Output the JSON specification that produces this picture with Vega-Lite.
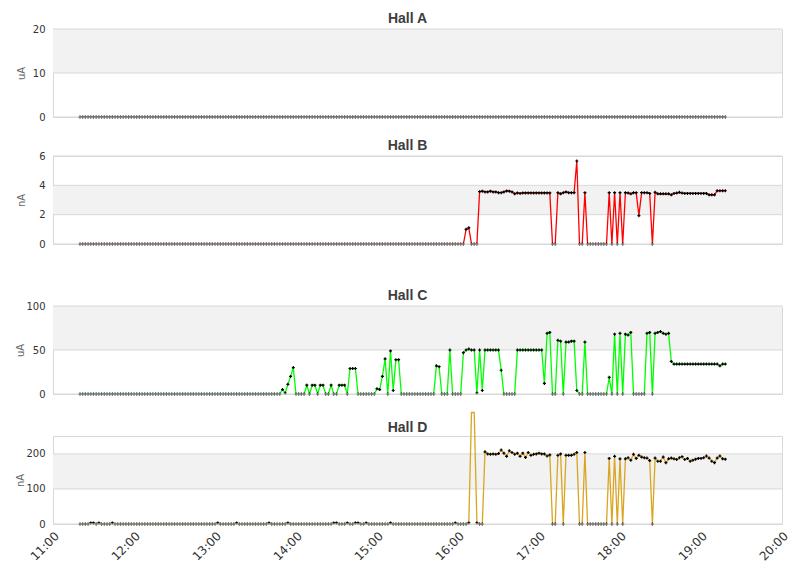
{
"$schema":"https://vega.github.io/schema/vega-lite/v6.json",
"padding":{"left":15,"top":11,"right":5,"bottom":2},
"background":"white",
"data":{"format":{"parse":{"t":"date:'%H:%M'"}},"values":[
{"t":"11:20","a":0,"b":0,"c":0,"d":0},{"t":"11:22","a":0,"b":0,"c":0,"d":0},{"t":"11:24","a":0,"b":0,"c":0,"d":0},{"t":"11:26","a":0,"b":0,"c":0,"d":0},{"t":"11:28","a":0,"b":0,"c":0,"d":3},{"t":"11:30","a":0,"b":0,"c":0,"d":3},{"t":"11:32","a":0,"b":0,"c":0,"d":0},{"t":"11:34","a":0,"b":0,"c":0,"d":3},{"t":"11:36","a":0,"b":0,"c":0,"d":0},{"t":"11:38","a":0,"b":0,"c":0,"d":0},
{"t":"11:40","a":0,"b":0,"c":0,"d":0},{"t":"11:42","a":0,"b":0,"c":0,"d":0},{"t":"11:44","a":0,"b":0,"c":0,"d":3},{"t":"11:46","a":0,"b":0,"c":0,"d":0},{"t":"11:48","a":0,"b":0,"c":0,"d":0},{"t":"11:50","a":0,"b":0,"c":0,"d":0},{"t":"11:52","a":0,"b":0,"c":0,"d":0},{"t":"11:54","a":0,"b":0,"c":0,"d":0},{"t":"11:56","a":0,"b":0,"c":0,"d":0},{"t":"11:58","a":0,"b":0,"c":0,"d":0},
{"t":"12:00","a":0,"b":0,"c":0,"d":0},{"t":"12:02","a":0,"b":0,"c":0,"d":0},{"t":"12:04","a":0,"b":0,"c":0,"d":0},{"t":"12:06","a":0,"b":0,"c":0,"d":0},{"t":"12:08","a":0,"b":0,"c":0,"d":0},{"t":"12:10","a":0,"b":0,"c":0,"d":0},{"t":"12:12","a":0,"b":0,"c":0,"d":0},{"t":"12:14","a":0,"b":0,"c":0,"d":0},{"t":"12:16","a":0,"b":0,"c":0,"d":0},{"t":"12:18","a":0,"b":0,"c":0,"d":0},
{"t":"12:20","a":0,"b":0,"c":0,"d":0},{"t":"12:22","a":0,"b":0,"c":0,"d":0},{"t":"12:24","a":0,"b":0,"c":0,"d":0},{"t":"12:26","a":0,"b":0,"c":0,"d":0},{"t":"12:28","a":0,"b":0,"c":0,"d":0},{"t":"12:30","a":0,"b":0,"c":0,"d":0},{"t":"12:32","a":0,"b":0,"c":0,"d":0},{"t":"12:34","a":0,"b":0,"c":0,"d":0},{"t":"12:36","a":0,"b":0,"c":0,"d":0},{"t":"12:38","a":0,"b":0,"c":0,"d":0},
{"t":"12:40","a":0,"b":0,"c":0,"d":0},{"t":"12:42","a":0,"b":0,"c":0,"d":0},{"t":"12:44","a":0,"b":0,"c":0,"d":0},{"t":"12:46","a":0,"b":0,"c":0,"d":0},{"t":"12:48","a":0,"b":0,"c":0,"d":0},{"t":"12:50","a":0,"b":0,"c":0,"d":0},{"t":"12:52","a":0,"b":0,"c":0,"d":0},{"t":"12:54","a":0,"b":0,"c":0,"d":0},{"t":"12:56","a":0,"b":0,"c":0,"d":0},{"t":"12:58","a":0,"b":0,"c":0,"d":0},
{"t":"13:00","a":0,"b":0,"c":0,"d":0},{"t":"13:02","a":0,"b":0,"c":0,"d":3},{"t":"13:04","a":0,"b":0,"c":0,"d":0},{"t":"13:06","a":0,"b":0,"c":0,"d":0},{"t":"13:08","a":0,"b":0,"c":0,"d":0},{"t":"13:10","a":0,"b":0,"c":0,"d":0},{"t":"13:12","a":0,"b":0,"c":0,"d":0},{"t":"13:14","a":0,"b":0,"c":0,"d":0},{"t":"13:16","a":0,"b":0,"c":0,"d":3},{"t":"13:18","a":0,"b":0,"c":0,"d":0},
{"t":"13:20","a":0,"b":0,"c":0,"d":0},{"t":"13:22","a":0,"b":0,"c":0,"d":0},{"t":"13:24","a":0,"b":0,"c":0,"d":0},{"t":"13:26","a":0,"b":0,"c":0,"d":0},{"t":"13:28","a":0,"b":0,"c":0,"d":0},{"t":"13:30","a":0,"b":0,"c":0,"d":0},{"t":"13:32","a":0,"b":0,"c":0,"d":0},{"t":"13:34","a":0,"b":0,"c":0,"d":0},{"t":"13:36","a":0,"b":0,"c":0,"d":0},{"t":"13:38","a":0,"b":0,"c":0,"d":0},
{"t":"13:40","a":0,"b":0,"c":0,"d":3},{"t":"13:42","a":0,"b":0,"c":0,"d":0},{"t":"13:44","a":0,"b":0,"c":0,"d":0},{"t":"13:46","a":0,"b":0,"c":0,"d":0},{"t":"13:48","a":0,"b":0,"c":0,"d":0},{"t":"13:50","a":0,"b":0,"c":5,"d":0},{"t":"13:52","a":0,"b":0,"c":1,"d":0},{"t":"13:54","a":0,"b":0,"c":11,"d":3},{"t":"13:56","a":0,"b":0,"c":20,"d":0},{"t":"13:58","a":0,"b":0,"c":30,"d":0},
{"t":"14:00","a":0,"b":0,"c":0,"d":0},{"t":"14:02","a":0,"b":0,"c":0,"d":0},{"t":"14:04","a":0,"b":0,"c":0,"d":0},{"t":"14:06","a":0,"b":0,"c":0,"d":0},{"t":"14:08","a":0,"b":0,"c":10,"d":0},{"t":"14:10","a":0,"b":0,"c":0,"d":0},{"t":"14:12","a":0,"b":0,"c":10,"d":0},{"t":"14:14","a":0,"b":0,"c":10,"d":0},{"t":"14:16","a":0,"b":0,"c":0,"d":0},{"t":"14:18","a":0,"b":0,"c":10,"d":0},
{"t":"14:20","a":0,"b":0,"c":10,"d":0},{"t":"14:22","a":0,"b":0,"c":0,"d":0},{"t":"14:24","a":0,"b":0,"c":0,"d":0},{"t":"14:26","a":0,"b":0,"c":10,"d":0},{"t":"14:28","a":0,"b":0,"c":0,"d":3},{"t":"14:30","a":0,"b":0,"c":0,"d":3},{"t":"14:32","a":0,"b":0,"c":10,"d":0},{"t":"14:34","a":0,"b":0,"c":10,"d":0},{"t":"14:36","a":0,"b":0,"c":10,"d":0},{"t":"14:38","a":0,"b":0,"c":0,"d":3},
{"t":"14:40","a":0,"b":0,"c":29,"d":0},{"t":"14:42","a":0,"b":0,"c":29,"d":0},{"t":"14:44","a":0,"b":0,"c":29,"d":3},{"t":"14:46","a":0,"b":0,"c":0,"d":3},{"t":"14:48","a":0,"b":0,"c":0,"d":0},{"t":"14:50","a":0,"b":0,"c":0,"d":0},{"t":"14:52","a":0,"b":0,"c":0,"d":3},{"t":"14:54","a":0,"b":0,"c":0,"d":0},{"t":"14:56","a":0,"b":0,"c":0,"d":0},{"t":"14:58","a":0,"b":0,"c":0,"d":0},
{"t":"15:00","a":0,"b":0,"c":6,"d":0},{"t":"15:02","a":0,"b":0,"c":5,"d":0},{"t":"15:04","a":0,"b":0,"c":20,"d":0},{"t":"15:06","a":0,"b":0,"c":40,"d":0},{"t":"15:08","a":0,"b":0,"c":0,"d":0},{"t":"15:10","a":0,"b":0,"c":49,"d":3},{"t":"15:12","a":0,"b":0,"c":4,"d":0},{"t":"15:14","a":0,"b":0,"c":39,"d":0},{"t":"15:16","a":0,"b":0,"c":39,"d":0},{"t":"15:18","a":0,"b":0,"c":0,"d":0},
{"t":"15:20","a":0,"b":0,"c":0,"d":0},{"t":"15:22","a":0,"b":0,"c":0,"d":0},{"t":"15:24","a":0,"b":0,"c":0,"d":0},{"t":"15:26","a":0,"b":0,"c":0,"d":0},{"t":"15:28","a":0,"b":0,"c":0,"d":0},{"t":"15:30","a":0,"b":0,"c":0,"d":0},{"t":"15:32","a":0,"b":0,"c":0,"d":0},{"t":"15:34","a":0,"b":0,"c":0,"d":0},{"t":"15:36","a":0,"b":0,"c":0,"d":0},{"t":"15:38","a":0,"b":0,"c":0,"d":0},
{"t":"15:40","a":0,"b":0,"c":0,"d":0},{"t":"15:42","a":0,"b":0,"c":0,"d":0},{"t":"15:44","a":0,"b":0,"c":32,"d":0},{"t":"15:46","a":0,"b":0,"c":31,"d":0},{"t":"15:48","a":0,"b":0,"c":0,"d":0},{"t":"15:50","a":0,"b":0,"c":0,"d":0},{"t":"15:52","a":0,"b":0,"c":0,"d":0},{"t":"15:54","a":0,"b":0,"c":50,"d":0},{"t":"15:56","a":0,"b":0,"c":0,"d":0},{"t":"15:58","a":0,"b":0,"c":0,"d":3},
{"t":"16:00","a":0,"b":0,"c":0,"d":0},{"t":"16:02","a":0,"b":0,"c":0,"d":0},{"t":"16:04","a":0,"b":0,"c":47,"d":0},{"t":"16:06","a":0,"b":1.0,"c":50,"d":0},{"t":"16:08","a":0,"b":1.1,"c":51,"d":3},{"t":"16:10","a":0,"b":0,"c":50,"d":318},{"t":"16:12","a":0,"b":0,"c":50,"d":318},{"t":"16:14","a":0,"b":0,"c":1,"d":3},{"t":"16:16","a":0,"b":3.57,"c":50,"d":0},{"t":"16:18","a":0,"b":3.6,"c":4,"d":0},
{"t":"16:20","a":0,"b":3.55,"c":50,"d":206},{"t":"16:22","a":0,"b":3.55,"c":50,"d":200},{"t":"16:24","a":0,"b":3.6,"c":50,"d":199},{"t":"16:26","a":0,"b":3.55,"c":50,"d":200},{"t":"16:28","a":0,"b":3.55,"c":50,"d":199},{"t":"16:30","a":0,"b":3.5,"c":50,"d":201},{"t":"16:32","a":0,"b":3.5,"c":27,"d":211},{"t":"16:34","a":0,"b":3.55,"c":0,"d":202},{"t":"16:36","a":0,"b":3.62,"c":0,"d":193},{"t":"16:38","a":0,"b":3.6,"c":0,"d":209},
{"t":"16:40","a":0,"b":3.55,"c":0,"d":204},{"t":"16:42","a":0,"b":3.42,"c":0,"d":199},{"t":"16:44","a":0,"b":3.48,"c":50,"d":202},{"t":"16:46","a":0,"b":3.45,"c":50,"d":193},{"t":"16:48","a":0,"b":3.48,"c":50,"d":202},{"t":"16:50","a":0,"b":3.48,"c":50,"d":190},{"t":"16:52","a":0,"b":3.48,"c":50,"d":204},{"t":"16:54","a":0,"b":3.48,"c":50,"d":196},{"t":"16:56","a":0,"b":3.48,"c":50,"d":199},{"t":"16:58","a":0,"b":3.48,"c":50,"d":200},
{"t":"17:00","a":0,"b":3.48,"c":50,"d":202},{"t":"17:02","a":0,"b":3.48,"c":50,"d":200},{"t":"17:04","a":0,"b":3.48,"c":12,"d":200},{"t":"17:06","a":0,"b":3.48,"c":69,"d":194},{"t":"17:08","a":0,"b":3.48,"c":70,"d":197},{"t":"17:10","a":0,"b":0,"c":0,"d":0},{"t":"17:12","a":0,"b":0,"c":0,"d":0},{"t":"17:14","a":0,"b":3.5,"c":61,"d":196},{"t":"17:16","a":0,"b":3.42,"c":60,"d":200},{"t":"17:18","a":0,"b":3.5,"c":0,"d":0},
{"t":"17:20","a":0,"b":3.55,"c":59,"d":196},{"t":"17:22","a":0,"b":3.5,"c":59,"d":196},{"t":"17:24","a":0,"b":3.5,"c":60,"d":196},{"t":"17:26","a":0,"b":3.5,"c":60,"d":199},{"t":"17:28","a":0,"b":5.66,"c":4,"d":204},{"t":"17:30","a":0,"b":0,"c":0,"d":0},{"t":"17:32","a":0,"b":0,"c":0,"d":0},{"t":"17:34","a":0,"b":3.5,"c":59,"d":204},{"t":"17:36","a":0,"b":0,"c":0,"d":0},{"t":"17:38","a":0,"b":0,"c":0,"d":0},
{"t":"17:40","a":0,"b":0,"c":0,"d":0},{"t":"17:42","a":0,"b":0,"c":0,"d":0},{"t":"17:44","a":0,"b":0,"c":0,"d":0},{"t":"17:46","a":0,"b":0,"c":0,"d":0},{"t":"17:48","a":0,"b":0,"c":0,"d":0},{"t":"17:50","a":0,"b":0,"c":0,"d":0},{"t":"17:52","a":0,"b":3.5,"c":19,"d":187},{"t":"17:54","a":0,"b":0,"c":0,"d":0},{"t":"17:56","a":0,"b":3.5,"c":68,"d":193},{"t":"17:58","a":0,"b":0,"c":0,"d":0},
{"t":"18:00","a":0,"b":3.5,"c":69,"d":186},{"t":"18:02","a":0,"b":0,"c":0,"d":0},{"t":"18:04","a":0,"b":3.5,"c":68,"d":186},{"t":"18:06","a":0,"b":3.48,"c":67,"d":189},{"t":"18:08","a":0,"b":3.42,"c":70,"d":182},{"t":"18:10","a":0,"b":3.5,"c":0,"d":199},{"t":"18:12","a":0,"b":3.5,"c":0,"d":187},{"t":"18:14","a":0,"b":1.93,"c":0,"d":196},{"t":"18:16","a":0,"b":3.5,"c":0,"d":191},{"t":"18:18","a":0,"b":3.5,"c":0,"d":189},
{"t":"18:20","a":0,"b":3.5,"c":69,"d":188},{"t":"18:22","a":0,"b":3.45,"c":70,"d":181},{"t":"18:24","a":0,"b":0,"c":0,"d":0},{"t":"18:26","a":0,"b":3.52,"c":69,"d":188},{"t":"18:28","a":0,"b":3.42,"c":70,"d":179},{"t":"18:30","a":0,"b":3.42,"c":71,"d":179},{"t":"18:32","a":0,"b":3.42,"c":69,"d":191},{"t":"18:34","a":0,"b":3.42,"c":68,"d":175},{"t":"18:36","a":0,"b":3.42,"c":69,"d":186},{"t":"18:38","a":0,"b":3.35,"c":37,"d":188},
{"t":"18:40","a":0,"b":3.45,"c":34,"d":186},{"t":"18:42","a":0,"b":3.47,"c":34,"d":184},{"t":"18:44","a":0,"b":3.52,"c":34,"d":189},{"t":"18:46","a":0,"b":3.47,"c":34,"d":192},{"t":"18:48","a":0,"b":3.45,"c":34,"d":184},{"t":"18:50","a":0,"b":3.45,"c":34,"d":187},{"t":"18:52","a":0,"b":3.45,"c":34,"d":179},{"t":"18:54","a":0,"b":3.45,"c":34,"d":182},{"t":"18:56","a":0,"b":3.45,"c":34,"d":185},{"t":"18:58","a":0,"b":3.45,"c":34,"d":187},
{"t":"19:00","a":0,"b":3.45,"c":34,"d":187},{"t":"19:02","a":0,"b":3.45,"c":34,"d":189},{"t":"19:04","a":0,"b":3.45,"c":34,"d":194},{"t":"19:06","a":0,"b":3.35,"c":34,"d":188},{"t":"19:08","a":0,"b":3.35,"c":34,"d":179},{"t":"19:10","a":0,"b":3.35,"c":34,"d":175},{"t":"19:12","a":0,"b":3.63,"c":34,"d":188},{"t":"19:14","a":0,"b":3.63,"c":32,"d":194},{"t":"19:16","a":0,"b":3.63,"c":34,"d":186},{"t":"19:18","a":0,"b":3.63,"c":34,"d":185}
]},
"config":{
 "view":{"stroke":"#d8d8d8","fill":"white"},
 "title":{"font":"Liberation Sans","fontSize":14,"fontWeight":"bold","color":"#3d3d3d","offset":-2,"frame":"group","dx":-10},
 "axisY":{"grid":false,"domain":false,"ticks":false,"labelFont":"DejaVu Sans","labelFontSize":10,"labelColor":"#333333","labelPadding":8,"labelOverlap":false,"titleFont":"DejaVu Sans","titleFontSize":10,"titleFontWeight":"normal","titleColor":"#666666"},
 "axisX":{"grid":false,"domain":false,"ticks":false,"labelFont":"DejaVu Sans","labelFontSize":12,"labelColor":"#333333","labelAngle":-45,"labelPadding":6}
},
"spacing":38,
"vconcat":[
{"spacing":15,"vconcat":[
 {"title":"Hall A","width":729,"height":88,"layer":[
  {"data":{"values":[{"lo":10,"hi":20}]},"mark":{"type":"rect","color":"#f2f2f2"},"encoding":{"y":{"field":"lo","type":"quantitative","scale":{"domain":[0,20],"nice":false},"axis":{"values":[0,10,20],"titlePadding":6,"labelOverlap":false},"title":"uA"},"y2":{"field":"hi"}}},
  {"data":{"values":[{"v":10},{"v":20}]},"mark":{"type":"rule","color":"#d8d8d8"},"encoding":{"y":{"field":"v","type":"quantitative","title":"uA"}}},
  {"mark":{"type":"line","color":"#000000","strokeWidth":1.3,"clip":true},"encoding":{"x":{"field":"t","type":"temporal","scale":{"domain":[{"year":1900,"month":1,"date":1,"hours":11},{"year":1900,"month":1,"date":1,"hours":20}]},"axis":null},"y":{"field":"a","type":"quantitative","title":"uA"}}},
  {"mark":{"type":"point","shape":"cross","filled":true,"color":"#000000","size":9,"opacity":1},"encoding":{"x":{"field":"t","type":"temporal","axis":null},"y":{"field":"a","type":"quantitative","title":"uA"}}},
  {"data":{"values":[{"v":0}]},"mark":{"type":"rule","color":"#d8d8d8"},"encoding":{"y":{"field":"v","type":"quantitative","title":"uA"}}}
 ]},
 {"title":"Hall B","width":729,"height":88,"layer":[
  {"data":{"values":[{"lo":2,"hi":4}]},"mark":{"type":"rect","color":"#f2f2f2"},"encoding":{"y":{"field":"lo","type":"quantitative","scale":{"domain":[0,6],"nice":false},"title":"nA"},"y2":{"field":"hi"}}},
  {"data":{"values":[{"v":2},{"v":4},{"v":6}]},"mark":{"type":"rule","color":"#d8d8d8"},"encoding":{"y":{"field":"v","type":"quantitative","title":"nA"}}},
  {"mark":{"type":"line","color":"#ff0000","strokeWidth":1.3,"clip":true},"encoding":{"x":{"field":"t","type":"temporal","scale":{"domain":[{"year":1900,"month":1,"date":1,"hours":11},{"year":1900,"month":1,"date":1,"hours":20}]},"axis":null},"y":{"field":"b","type":"quantitative","title":"nA","axis":{"values":[0,2,4,6],"tickCount":4,"format":"d","titlePadding":12,"labelOverlap":false,"labelBound":false,"labelFlush":false}}}},
  {"mark":{"type":"point","shape":"cross","filled":true,"color":"#000000","size":9,"opacity":1},"encoding":{"x":{"field":"t","type":"temporal","axis":null},"y":{"field":"b","type":"quantitative","title":"nA"}}},
  {"data":{"values":[{"v":0}]},"mark":{"type":"rule","color":"#d8d8d8"},"encoding":{"y":{"field":"v","type":"quantitative","title":"nA"}}}
 ]}
]},
{"spacing":9,"vconcat":[
 {"title":"Hall C","width":729,"height":88,"layer":[
  {"data":{"values":[{"lo":50,"hi":100}]},"mark":{"type":"rect","color":"#f2f2f2"},"encoding":{"y":{"field":"lo","type":"quantitative","scale":{"domain":[0,100],"nice":false},"axis":{"values":[0,50,100],"titlePadding":0,"labelOverlap":false},"title":"uA"},"y2":{"field":"hi"}}},
  {"data":{"values":[{"v":50},{"v":100}]},"mark":{"type":"rule","color":"#d8d8d8"},"encoding":{"y":{"field":"v","type":"quantitative","title":"uA"}}},
  {"mark":{"type":"line","color":"#00ff00","strokeWidth":1.3,"clip":true},"encoding":{"x":{"field":"t","type":"temporal","scale":{"domain":[{"year":1900,"month":1,"date":1,"hours":11},{"year":1900,"month":1,"date":1,"hours":20}]},"axis":null},"y":{"field":"c","type":"quantitative","title":"uA"}}},
  {"mark":{"type":"point","shape":"cross","filled":true,"color":"#000000","size":9,"opacity":1},"encoding":{"x":{"field":"t","type":"temporal","axis":null},"y":{"field":"c","type":"quantitative","title":"uA"}}},
  {"data":{"values":[{"v":0}]},"mark":{"type":"rule","color":"#d8d8d8"},"encoding":{"y":{"field":"v","type":"quantitative","title":"uA"}}}
 ]},
 {"title":{"text":"Hall D","offset":-25},"width":729,"height":88,"layer":[
  {"data":{"values":[{"lo":100,"hi":200}]},"mark":{"type":"rect","color":"#f2f2f2"},"encoding":{"y":{"field":"lo","type":"quantitative","scale":{"domain":[0,251],"nice":false},"axis":{"values":[0,100,200],"titlePadding":0,"labelOverlap":false},"title":"nA"},"y2":{"field":"hi"}}},
  {"data":{"values":[{"v":100},{"v":200}]},"mark":{"type":"rule","color":"#d8d8d8"},"encoding":{"y":{"field":"v","type":"quantitative","title":"nA"}}},
  {"mark":{"type":"line","color":"#daa520","strokeWidth":1.3,"clip":false},"encoding":{"x":{"field":"t","type":"temporal","scale":{"domain":[{"year":1900,"month":1,"date":1,"hours":11},{"year":1900,"month":1,"date":1,"hours":20}]},"axis":{"format":"%H:%M","title":null,"values":[{"year":1900,"month":1,"date":1,"hours":11},{"year":1900,"month":1,"date":1,"hours":12},{"year":1900,"month":1,"date":1,"hours":13},{"year":1900,"month":1,"date":1,"hours":14},{"year":1900,"month":1,"date":1,"hours":15},{"year":1900,"month":1,"date":1,"hours":16},{"year":1900,"month":1,"date":1,"hours":17},{"year":1900,"month":1,"date":1,"hours":18},{"year":1900,"month":1,"date":1,"hours":19},{"year":1900,"month":1,"date":1,"hours":20}]}},"y":{"field":"d","type":"quantitative","title":"nA"}}},
  {"transform":[{"filter":"datum.d <= 251"}],"mark":{"type":"point","shape":"cross","filled":true,"color":"#000000","size":9,"opacity":1},"encoding":{"x":{"field":"t","type":"temporal"},"y":{"field":"d","type":"quantitative","title":"nA"}}},
  {"data":{"values":[{"v":0}]},"mark":{"type":"rule","color":"#d8d8d8"},"encoding":{"y":{"field":"v","type":"quantitative","title":"nA"}}}
 ]}
]}
]
}
